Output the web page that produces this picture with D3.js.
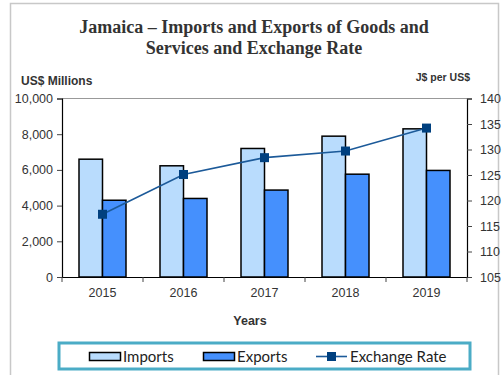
<!DOCTYPE html>
<html><head><meta charset="utf-8">
<script src="https://cdn.jsdelivr.net/npm/d3@7"></script>
<style>body{margin:0;background:#fff}svg{display:block}</style>
</head><body>
<svg id="c" width="503" height="375"></svg>
<script>
const years = ["2015","2016","2017","2018","2019"];
const imports = [6600, 6230, 7200, 7890, 8300];
const exports_ = [4300, 4400, 4870, 5760, 5970];
const exchangeRate = [117.3, 125.1, 128.4, 129.7, 134.2];
const leftTicks = [0, 2000, 4000, 6000, 8000, 10000];
const rightTicks = [105, 110, 115, 120, 125, 130, 135, 140];

const svg = d3.select("#c");
const L = 62, R = 467, T = 98.5, B = 277;

// outer frame
svg.append("path").attr("d", `M10.5,375 V3.5 H498.5 V375`).attr("fill","none").attr("stroke","#c8c8c8").attr("stroke-width",1.5);

// title
const title = svg.append("text").attr("x",254).attr("text-anchor","middle")
  .attr("font-family","Liberation Serif, serif").attr("font-weight","bold").attr("font-size",18).attr("fill","#333");
title.append("tspan").attr("x",254).attr("y",33).text("Jamaica \u2013 Imports and Exports of Goods and");
title.append("tspan").attr("x",254).attr("y",54).text("Services and Exchange Rate");

svg.append("text").attr("x",21).attr("y",84.5).attr("font-family","Liberation Sans, Arial").attr("font-weight","bold").attr("font-size",12).attr("fill","#333").text("US$ Millions");
svg.append("text").attr("x",470).attr("y",80.5).attr("text-anchor","end").attr("font-family","Liberation Sans, Arial").attr("font-weight","bold").attr("font-size",10.5).attr("fill","#333").text("J$ per US$");

const x = d3.scaleBand().domain(years).range([L, R]);
const yL = d3.scaleLinear().domain([0, 10000]).range([B, T]);
const yR = d3.scaleLinear().domain([105, 140]).range([B, T]);
const bw = 23.5;

// plot top border
svg.append("line").attr("x1",L).attr("x2",R).attr("y1",T).attr("y2",T).attr("stroke","#999").attr("stroke-width",1);

// bars
const g = svg.append("g");
g.selectAll("rect.imp").data(years).enter().append("rect")
  .attr("x", (d)=> x(d)+x.bandwidth()/2 - bw)
  .attr("y", (d,i)=> yL(imports[i])).attr("width", bw)
  .attr("height", (d,i)=> B - yL(imports[i]))
  .attr("fill","#b9dcfd").attr("stroke","#000").attr("stroke-width",1.5);
g.selectAll("rect.exp").data(years).enter().append("rect")
  .attr("x", (d)=> x(d)+x.bandwidth()/2)
  .attr("y", (d,i)=> yL(exports_[i])).attr("width", bw)
  .attr("height", (d,i)=> B - yL(exports_[i]))
  .attr("fill","#4590fd").attr("stroke","#000").attr("stroke-width",1.5);

// axes
const axFont = (sel)=> sel.selectAll("text").attr("font-family","Liberation Sans, Arial").attr("font-size",12.5).attr("fill","#333");
const la = svg.append("g").attr("transform",`translate(${L},0)`)
  .call(d3.axisLeft(yL).tickValues(leftTicks).tickFormat(d3.format(",")).tickSize(5).tickPadding(4));
la.select(".domain").attr("stroke","#000").attr("stroke-width",1.2);
la.selectAll("line").attr("stroke","#444");
axFont(la);
const ra = svg.append("g").attr("transform",`translate(${R},0)`)
  .call(d3.axisRight(yR).tickValues(rightTicks).tickSize(5).tickPadding(8));
ra.select(".domain").attr("stroke","#000").attr("stroke-width",1.2);
ra.selectAll("line").attr("stroke","#444");
axFont(ra);
const ba = svg.append("g").attr("transform",`translate(0,${B})`)
  .call(d3.axisBottom(x).tickSize(0).tickPadding(11));
ba.select(".domain").attr("stroke","#000").attr("stroke-width",1.2);
axFont(ba);
// category boundary ticks
const bounds = years.map(d=>x(d)).concat([R]);
ba.selectAll("line.bt").data(bounds).enter().append("line").attr("class","bt")
  .attr("x1",d=>d).attr("x2",d=>d).attr("y1",0).attr("y2",5).attr("stroke","#444");

svg.append("text").attr("x",250).attr("y",325).attr("text-anchor","middle").attr("font-family","Liberation Sans, Arial").attr("font-weight","bold").attr("font-size",12.5).attr("fill","#333").text("Years");

// line
const line = d3.line().x((d,i)=> x(years[i])+x.bandwidth()/2).y(d=>yR(d));
svg.append("path").datum(exchangeRate).attr("d",line).attr("fill","none").attr("stroke","#1c5a99").attr("stroke-width",1.6);
svg.selectAll("rect.mk").data(exchangeRate).enter().append("rect")
  .attr("x",(d,i)=> x(years[i])+x.bandwidth()/2-4.5).attr("y",d=>yR(d)-4.5)
  .attr("width",9).attr("height",9).attr("fill","#00407f");

// legend
svg.append("rect").attr("x",59).attr("y",343).attr("width",411).attr("height",26).attr("fill","#fff").attr("stroke","#4bacc6").attr("stroke-width",3);
const lf = "Lato, 'Open Sans', sans-serif";
svg.append("rect").attr("x",89.5).attr("y",352.5).attr("width",31).attr("height",8).attr("fill","#b9dcfd").attr("stroke","#000").attr("stroke-width",1.5);
svg.append("text").attr("x",123).attr("y",362).attr("font-family",lf).attr("font-size",15).attr("fill","#222").text("Imports");
svg.append("rect").attr("x",203.5).attr("y",352.5).attr("width",31).attr("height",8).attr("fill","#4590fd").attr("stroke","#000").attr("stroke-width",1.5);
svg.append("text").attr("x",237).attr("y",362).attr("font-family",lf).attr("font-size",15).attr("fill","#222").text("Exports");
svg.append("line").attr("x1",316).attr("x2",347).attr("y1",356.5).attr("y2",356.5).attr("stroke","#1c5a99").attr("stroke-width",1.6);
svg.append("rect").attr("x",327).attr("y",352).attr("width",9).attr("height",9).attr("fill","#00407f");
svg.append("text").attr("x",350).attr("y",362).attr("font-family",lf).attr("font-size",15).attr("fill","#222").text("Exchange Rate");
</script>
</body></html>
